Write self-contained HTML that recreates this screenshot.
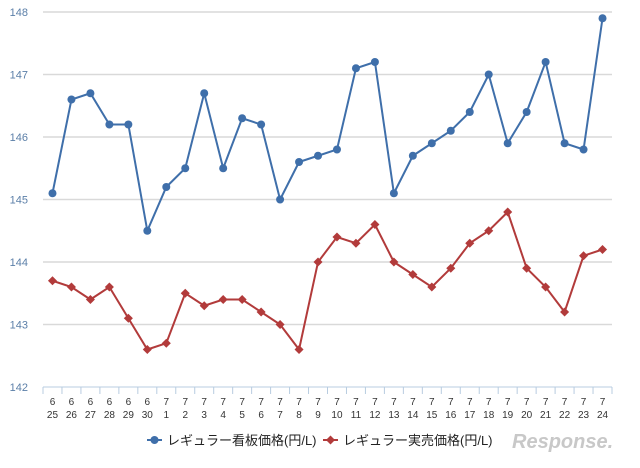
<!DOCTYPE html>
<html><head><meta charset="utf-8"><style>
body{margin:0;background:#fff;width:640px;height:463px;overflow:hidden;font-family:"Liberation Sans","Noto Sans CJK JP",sans-serif}
</style></head><body>
<svg id="chart" width="640" height="463" xmlns="http://www.w3.org/2000/svg" font-family="Liberation Sans, Noto Sans CJK JP, sans-serif"></svg>
<script>
const months=["6","6","6","6","6","6","7","7","7","7","7","7","7","7","7","7","7","7","7","7","7","7","7","7","7","7","7","7","7","7"];
const days=["25","26","27","28","29","30","1","2","3","4","5","6","7","8","9","10","11","12","13","14","15","16","17","18","19","20","21","22","23","24"];
const signPrice=[145.1,146.6,146.7,146.2,146.2,144.5,145.2,145.5,146.7,145.5,146.3,146.2,145.0,145.6,145.7,145.8,147.1,147.2,145.1,145.7,145.9,146.1,146.4,147.0,145.9,146.4,147.2,145.9,145.8,147.9];
const salePrice=[143.7,143.6,143.4,143.6,143.1,142.6,142.7,143.5,143.3,143.4,143.4,143.2,143.0,142.6,144.0,144.4,144.3,144.6,144.0,143.8,143.6,143.9,144.3,144.5,144.8,143.9,143.6,143.2,144.1,144.2];
const yTicks=[142,143,144,145,146,147,148];
const svg=document.getElementById('chart');
const NS='http://www.w3.org/2000/svg';
const L=43,R=612,T=12,B=387,yMin=142,yMax=148;
const bw=(R-L)/days.length;
const x=i=>L+bw*(i+0.5);
const y=v=>B-(v-yMin)/(yMax-yMin)*(B-T);
function mk(tag,attrs,parent){const e=document.createElementNS(NS,tag);for(const k in attrs)e.setAttribute(k,attrs[k]);(parent||svg).appendChild(e);return e;}
yTicks.forEach(t=>{
  if(t!==yMin){const g=mk('line',{x1:L,x2:R,y1:y(t),y2:y(t),stroke:'#d9d9d9','stroke-width':1.5});
  
  }
  const tx=mk('text',{x:28,y:y(t)+4,'text-anchor':'end','font-size':11,fill:'#5b7fa8'});tx.textContent=t;
  
  
});
const ax=mk('line',{x1:L,x2:R,y1:B,y2:B,stroke:'#b8cce0','stroke-width':1});


for(let i=0;i<=days.length;i++){const tk=mk('line',{x1:L+bw*i,x2:L+bw*i,y1:B,y2:B+7,stroke:'#b8cce0'});

}
days.forEach((d,i)=>{
  const t1=mk('text',{x:x(i),y:405,'text-anchor':'middle','font-size':10,fill:'#333'});t1.textContent=months[i];
  
  
  const t2=mk('text',{x:x(i),y:418,'text-anchor':'middle','font-size':10,fill:'#333'});t2.textContent=d;
  
  
});
function series(vals,color,name,marker){
  const g=mk('g',{});
  
  
  mk('polyline',{points:vals.map((v,i)=>x(i)+','+y(v)).join(' '),fill:'none',stroke:color,'stroke-width':2},g);
  vals.forEach((v,i)=>{
    let m;
    if(marker==='circle')m=mk('circle',{cx:x(i),cy:y(v),r:4,fill:color},g);
    else m=mk('rect',{x:x(i)-3.2,y:y(v)-3.2,width:6.4,height:6.4,fill:color,transform:`rotate(45 ${x(i)} ${y(v)})`},g);
    
    
  });
}
series(signPrice,'#3f6faa','sign-price-series','circle');
series(salePrice,'#b23b3b','sale-price-series','diamond');
// legend
const lg=mk('g',{});


mk('line',{x1:147,x2:162,y1:440,y2:440,stroke:'#3f6faa','stroke-width':2},lg);
mk('circle',{cx:154.5,cy:440,r:4,fill:'#3f6faa'},lg);
const l1=mk('text',{x:167,y:445,'font-size':13,fill:'#222'},lg);l1.textContent='レギュラー看板価格(円/L)';


mk('line',{x1:323,x2:338,y1:440,y2:440,stroke:'#b23b3b','stroke-width':2},lg);
mk('rect',{x:327.3,y:436.8,width:6.4,height:6.4,fill:'#b23b3b',transform:'rotate(45 330.5 440)'},lg);
const l2=mk('text',{x:343,y:445,'font-size':13,fill:'#222'},lg);l2.textContent='レギュラー実売価格(円/L)';


const logo=mk('text',{x:512,y:448,'font-size':20,'font-style':'italic','font-weight':'bold',fill:'#c8c8c8'});logo.textContent='Response.';


</script>
</body></html>
